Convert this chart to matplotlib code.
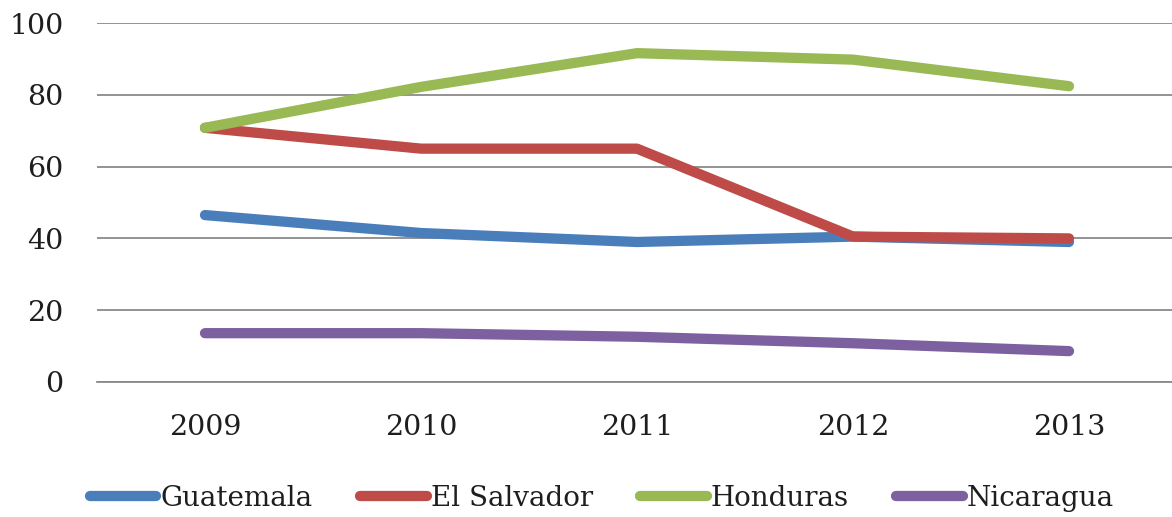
import matplotlib
matplotlib.use("Agg")
import matplotlib.pyplot as plt

years = ["2009", "2010", "2011", "2012", "2013"]
guatemala = [46.5, 41.5, 39, 40.5, 39]
el_salvador = [70.8, 65, 65, 40.5, 40]
honduras = [70.8, 82.2, 91.6, 89.8, 82.4]
nicaragua = [13.6, 13.6, 12.6, 10.8, 8.6]

series = [
    ("Guatemala", guatemala, "#4A7EBB"),
    ("El Salvador", el_salvador, "#BE4B48"),
    ("Honduras", honduras, "#98B954"),
    ("Nicaragua", nicaragua, "#7D60A0"),
]
yticks = [0, 20, 40, 60, 80, 100]

plt.rcParams['font.family'] = ['DejaVu Serif']

fig = plt.figure(figsize=(11.72, 5.17), dpi=100)
ax = fig.add_axes([97/1172, 135/517, 1080/1172, 359/517])

x = list(range(len(years)))
for name, vals, col in series:
    ax.plot(x, vals, color=col, lw=7.4, solid_capstyle='round',
            solid_joinstyle='round', label=name, clip_on=False)

ax.set_xlim(-0.5, len(years) - 0.5)
ax.set_ylim(0, 100)
ax.set_yticks(yticks)
ax.set_xticks(x)
ax.set_xticklabels(years)
ax.yaxis.grid(True, color="#8a8a8a", lw=1.3)
ax.set_axisbelow(True)
for s in ["top", "left", "right"]:
    ax.spines[s].set_visible(False)
ax.spines["bottom"].set_color("#8a8a8a")
ax.spines["bottom"].set_linewidth(1.3)
ax.tick_params(axis='both', length=0, labelsize=20.5, colors="#1e1e1e")
ax.tick_params(axis='y', pad=24)
ax.tick_params(axis='x', pad=23)

leg = fig.legend(loc='center', bbox_to_anchor=(602/1172, 1 - 498/517), ncol=4,
                 frameon=False, fontsize=20, handlelength=2.4,
                 handletextpad=0.15, columnspacing=1.7)
for t in leg.get_texts():
    t.set_color("#1e1e1e")

fig.savefig("out.png", dpi=100)
